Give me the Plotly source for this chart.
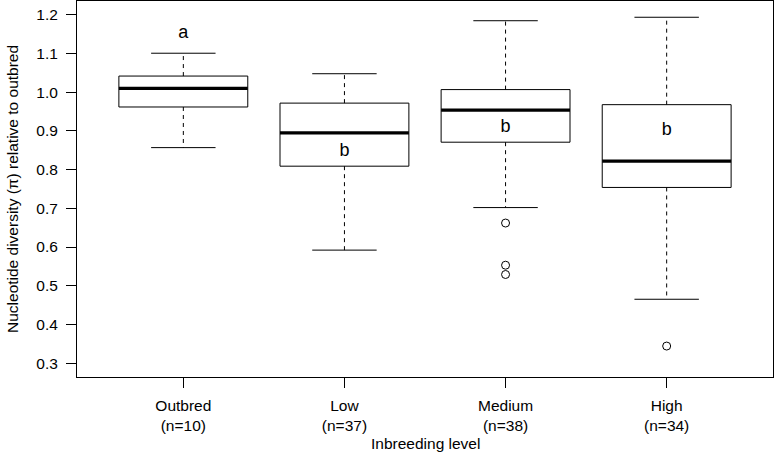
import plotly.graph_objects as go

categories = ["Outbred", "Low", "Medium", "High"]
n_counts = [10, 37, 38, 34]
lower_whisker = [0.857, 0.592, 0.702, 0.465]
q1 = [0.962, 0.809, 0.871, 0.754]
median = [1.010, 0.895, 0.954, 0.822]
q3 = [1.042, 0.972, 1.007, 0.968]
upper_whisker = [1.101, 1.048, 1.185, 1.194]
outlier_group = [3, 3, 3, 4]
outlier_value = [0.662, 0.553, 0.529, 0.344]
letters = ["a", "b", "b", "b"]
letter_y = [1.153, 0.847, 0.909, 0.900]
y_ticks = [0.3, 0.4, 0.5, 0.6, 0.7, 0.8, 0.9, 1.0, 1.1, 1.2]
y_limits = [0.3, 1.2]

positions = list(range(1, len(categories) + 1))
boxhalf = 0.4
caphalf = 0.2

box_x, box_y = [], []
med_x, med_y = [], []
wh_x, wh_y = [], []
cap_x, cap_y = [], []
for p, lo, a, m, b, hi in zip(positions, lower_whisker, q1, median, q3, upper_whisker):
    box_x += [p - boxhalf, p + boxhalf, p + boxhalf, p - boxhalf, p - boxhalf, None]
    box_y += [a, a, b, b, a, None]
    med_x += [p - boxhalf, p + boxhalf, None]
    med_y += [m, m, None]
    wh_x += [p, p, None, p, p, None]
    wh_y += [b, hi, None, a, lo, None]
    cap_x += [p - caphalf, p + caphalf, None, p - caphalf, p + caphalf, None]
    cap_y += [hi, hi, None, lo, lo, None]

FONT = "Liberation Sans"
FS = 15.5

fig = go.Figure()
fig.add_trace(go.Scatter(x=wh_x, y=wh_y, mode="lines",
                         line=dict(color="black", width=1, dash="4px,4px"), hoverinfo="skip"))
fig.add_trace(go.Scatter(x=cap_x, y=cap_y, mode="lines",
                         line=dict(color="black", width=1), hoverinfo="skip"))
fig.add_trace(go.Scatter(x=box_x, y=box_y, mode="lines",
                         line=dict(color="black", width=1), hoverinfo="skip"))
fig.add_trace(go.Scatter(x=med_x, y=med_y, mode="lines",
                         line=dict(color="black", width=3.2), hoverinfo="skip"))
fig.add_trace(go.Scatter(x=outlier_group, y=outlier_value, mode="markers",
                         marker=dict(symbol="circle-open", size=8, color="black",
                                     line=dict(width=1, color="black")), hoverinfo="skip"))
fig.add_trace(go.Scatter(x=positions, y=letter_y, mode="text", text=letters,
                         textfont=dict(size=18, color="black", family=FONT),
                         textposition="middle center", hoverinfo="skip"))

span_x = len(categories) - 1 + 1.0
xr = [0.5 - 0.04 * span_x, len(categories) + 0.5 + 0.04 * span_x]
dy = (y_limits[1] - y_limits[0]) * 0.04
yr = [y_limits[0] - dy, y_limits[1] + dy]

fig.update_layout(
    width=776, height=454,
    margin=dict(l=77, r=3, t=1, b=77),
    plot_bgcolor="white", paper_bgcolor="white",
    showlegend=False,
    font=dict(family=FONT, size=FS, color="black"),
    xaxis=dict(range=xr, tickmode="array", tickvals=positions,
               ticktext=[f"{c}<br>(n={n})" for c, n in zip(categories, n_counts)],
               ticks="outside", ticklen=10, tickcolor="black", showgrid=False, zeroline=False,
               showline=True, linecolor="black", linewidth=1, mirror=True,
               automargin=False, ticklabelstandoff=4),
    yaxis=dict(range=yr, tickmode="array", tickvals=y_ticks,
               ticktext=[f"{v:.1f}" for v in y_ticks],
               ticks="outside", ticklen=10, tickcolor="black", showgrid=False, zeroline=False,
               showline=True, linecolor="black", linewidth=1, mirror=True,
               automargin=False, ticklabelstandoff=5),
    annotations=[
        dict(text="Inbreeding level", xref="paper", yref="paper", x=0.5, y=0,
             yshift=-66, showarrow=False, font=dict(size=FS), yanchor="middle"),
        dict(text="Nucleotide diversity (π) relative to outbred", xref="paper", yref="paper",
             x=0, xshift=-65, y=0.5, textangle=-90, showarrow=False, font=dict(size=FS),
             xanchor="center", yanchor="middle"),
    ],
)

fig.write_html("out.html", config={"displayModeBar": False},
               post_script="document.body.style.margin='0';document.body.style.overflow='hidden';")
